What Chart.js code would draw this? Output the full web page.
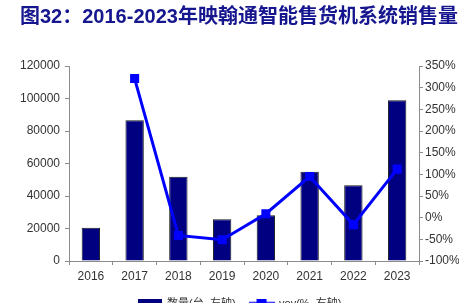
<!DOCTYPE html>
<html>
<head>
<meta charset="utf-8">
<script src="https://cdn.jsdelivr.net/npm/chart.js@4.4.1/dist/chart.umd.min.js"></script>
<style>
  html, body { margin: 0; padding: 0; background: #fff; overflow: hidden; }
  #wrap { position: relative; width: 459px; height: 319px; }
</style>
</head>
<body>
<div id="wrap"><canvas id="chart" width="459" height="319"></canvas></div>
<script>
// 映翰通智能售货机系统销售量
const years = ['2016', '2017', '2018', '2019', '2020', '2021', '2022', '2023'];
const sales = [20500, 86600, 51900, 25700, 28100, 55000, 46600, 98900];
const yoy = [null, 321, -41, -51, 9, 95, -16, 112];

const titleText = '图32：2016-2023年映翰通智能售货机系统销售量';
const salesLabel = '数量(台, 左轴)';
const yoyLabel = 'yoy(%, 右轴)';

const axisColor = '#8c8c8c';
const tickFont = { family: "'Liberation Sans', Arial, sans-serif", size: 12 };

// legend markers
function makeBarIcon() {
  const c = document.createElement('canvas');
  c.width = 24; c.height = 10;
  const g = c.getContext('2d');
  g.fillStyle = '#000080';
  g.fillRect(0, 0, 24, 10);
  return c;
}
function makeLineIcon() {
  const c = document.createElement('canvas');
  c.width = 26; c.height = 10;
  const g = c.getContext('2d');
  g.strokeStyle = '#0000ff';
  g.lineWidth = 3;
  g.beginPath(); g.moveTo(0, 5); g.lineTo(26, 5); g.stroke();
  g.fillStyle = '#0000ff';
  g.fillRect(8, 0, 10, 10);
  return c;
}

const ctx = document.getElementById('chart').getContext('2d');
new Chart(ctx, {
  type: 'bar',
  data: {
    labels: years,
    datasets: [
      {
        type: 'bar',
        label: salesLabel,
        data: sales,
        yAxisID: 'y',
        backgroundColor: '#000080',
        borderColor: '#1a1a1a',
        borderWidth: 1,
        categoryPercentage: 1,
        barPercentage: 0.42,
        order: 1
      },
      {
        type: 'line',
        label: yoyLabel,
        data: yoy,
        yAxisID: 'y1',
        borderColor: '#0000ff',
        backgroundColor: '#0000ff',
        borderWidth: 3,
        pointStyle: 'rect',
        pointRadius: 6.4,
        pointBackgroundColor: '#0000ff',
        pointBorderWidth: 0,
        tension: 0,
        order: 0
      }
    ]
  },
  options: {
    responsive: false,
    animation: false,
    layout: { padding: { left: 20, right: 0, top: 0, bottom: 0 } },
    plugins: {
      title: {
        display: true,
        text: titleText,
        align: 'start',
        color: '#16168f',
        font: { family: "'Liberation Sans', Arial, 'Noto Sans CJK SC', sans-serif", size: 20, weight: 'bold' },
        padding: { top: 5, bottom: 37 }
      },
      legend: {
        position: 'bottom',
        labels: {
          usePointStyle: true,
          pointStyleWidth: 24,
          padding: 14,
          color: '#333',
          font: { family: "'Liberation Sans', Arial, 'Noto Sans CJK SC', sans-serif", size: 11 },
          generateLabels: (chart) => {
            return chart.data.datasets.map((ds, i) => ({
              text: ds.label,
              pointStyle: i === 0 ? makeBarIcon() : makeLineIcon(),
              fillStyle: ds.backgroundColor,
              strokeStyle: ds.backgroundColor,
              lineWidth: 0,
              fontColor: '#333',
              datasetIndex: i,
              hidden: false
            }));
          }
        }
      },
      tooltip: { enabled: false }
    },
    scales: {
      x: {
        afterFit: (scale) => { scale.height = 23; },
        grid: { display: true, drawOnChartArea: false, drawTicks: true, tickLength: 4, color: axisColor, offset: true },
        border: { display: true, color: axisColor },
        ticks: { color: '#333', font: tickFont, padding: 4, maxRotation: 0 }
      },
      y: {
        position: 'left',
        min: 0,
        max: 120000,
        afterFit: (scale) => { scale.width = 49; },
        grid: { display: true, drawOnChartArea: false, drawTicks: true, tickLength: 4, color: axisColor },
        border: { display: true, color: axisColor },
        ticks: { stepSize: 20000, color: '#333', font: tickFont, padding: 5, callback: (v) => String(v) }
      },
      y1: {
        position: 'right',
        min: -100,
        max: 350,
        afterFit: (scale) => { scale.width = 40; },
        grid: { display: true, drawOnChartArea: false, drawTicks: true, tickLength: 4, color: axisColor },
        border: { display: true, color: axisColor },
        ticks: { stepSize: 50, color: '#333', font: tickFont, padding: 2, callback: (v) => v + '%' }
      }
    }
  }
});
</script>
</body>
</html>
